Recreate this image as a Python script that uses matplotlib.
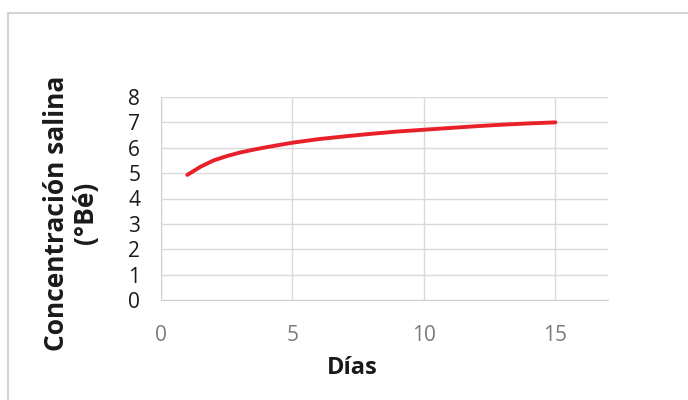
import matplotlib.pyplot as plt
from matplotlib.patches import Rectangle

# Salt concentration over the days
dias = [1, 1.5, 2, 2.5, 3, 3.5, 4, 5, 6, 7, 8, 9, 10, 11, 12, 13, 14, 15]
concentracion = [4.93, 5.25, 5.50, 5.67, 5.81, 5.92, 6.02, 6.20, 6.34, 6.45,
                 6.55, 6.64, 6.71, 6.78, 6.85, 6.91, 6.96, 7.00]
x_ticks = [0, 5, 10, 15]
y_ticks = [0, 1, 2, 3, 4, 5, 6, 7, 8]

plt.rcParams['font.family'] = ['Open Sans', 'DejaVu Sans']

fig = plt.figure(figsize=(6.88, 4.0), dpi=100)
ax = fig.add_axes([161 / 688, 1 - 300 / 400, (608 - 161) / 688, (300 - 97) / 400])

# light frame around the whole chart
fig.patches.append(Rectangle((8 / 688, -0.05), 1.0, 1.05 - 13 / 400,
                             transform=fig.transFigure, fill=False,
                             edgecolor='#d4d4d4', linewidth=1.5))

ax.plot(dias, concentracion, color='#e8202a', linewidth=2.8,
        solid_capstyle='round', solid_joinstyle='round')

ax.set_xlim(0, 17)
ax.set_ylim(0, 8)
ax.set_xticks(x_ticks)
ax.set_yticks(y_ticks)
ax.grid(True, color='#d9d9d9', linewidth=1.0)
ax.set_axisbelow(True)
for side in ['top', 'right']:
    ax.spines[side].set_visible(False)
for side in ['left', 'bottom']:
    ax.spines[side].set_color('#d0d0d0')
ax.tick_params(length=0)
ax.tick_params(axis='y', labelsize=15, labelcolor='#1a1a1a', pad=15)
ax.tick_params(axis='x', labelsize=15, labelcolor='#7a7a7a', pad=18)

# axis titles placed in figure coordinates
fig.text(352 / 688, 1 - 368 / 400, 'Días', fontsize=17, fontweight='bold',
         color='#1a1a1a', ha='center', va='center')
fig.text(71 / 688, 1 - 213 / 400, 'Concentración salina\n(°Bé)', fontsize=19,
         fontweight='bold', color='#1a1a1a', rotation=90, ha='center',
         va='center', multialignment='center', linespacing=1.1)

fig.savefig('out.png', dpi=100)
